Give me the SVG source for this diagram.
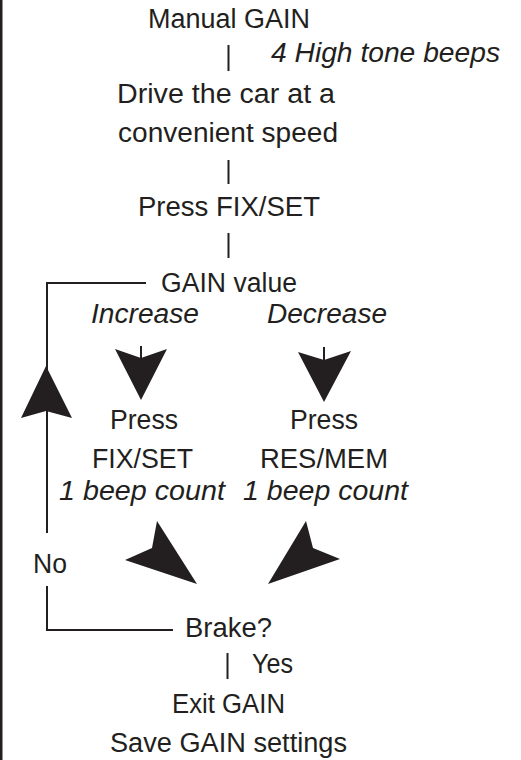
<svg xmlns="http://www.w3.org/2000/svg" width="521" height="760" viewBox="0 0 521 760">
<style>
  text { font-family: "Liberation Sans", Arial, sans-serif; font-size: 27px; fill: #231f20; text-anchor: middle; }
  .it { font-style: italic; }
  .ln { stroke: #231f20; stroke-width: 2; fill: none; }
  .ah { fill: #231f20; stroke: none; }
</style>
<rect x="0" y="0" width="521" height="760" fill="#ffffff"/>
<rect x="0" y="0" width="2.5" height="760" fill="#231f20"/>

<g id="connectors">
  <line class="ln" x1="228.5" y1="45" x2="228.5" y2="71"/>
  <line class="ln" x1="228.5" y1="160" x2="228.5" y2="184"/>
  <line class="ln" x1="228.5" y1="233" x2="228.5" y2="258"/>
  <path class="ln" d="M146,283 H47 V370"/>
  <path class="ln" d="M47,405 V533"/>
  <path class="ln" d="M47,586 V630 H173"/>
  <polygon class="ah" points="46,366 72,418 46,411 21,418"/>
  <line class="ln" x1="141" y1="346" x2="141" y2="358"/>
  <polygon class="ah" points="115,349 141,358 167,349 141,400"/>
  <line class="ln" x1="324" y1="347" x2="324" y2="360"/>
  <polygon class="ah" points="298,352 324,360 351,351 324,402"/>
  <polygon class="ah" points="157,521 152,548 125,560 197,584"/>
  <polygon class="ah" points="306,521 313,548 340,559 268,584"/>
  <line class="ln" x1="227.5" y1="653" x2="227.5" y2="679"/>
</g>

<g id="manual-gain"><text x="229" y="28" textLength="162" lengthAdjust="spacingAndGlyphs">Manual GAIN</text></g>
<g id="beeps-4"><text class="it" x="385.5" y="62" textLength="229" lengthAdjust="spacingAndGlyphs">4 High tone beeps</text></g>
<g id="drive">
  <text x="226" y="103" textLength="218" lengthAdjust="spacingAndGlyphs">Drive the car at a</text>
  <text x="228" y="142" textLength="220" lengthAdjust="spacingAndGlyphs">convenient speed</text>
</g>
<g id="press-fixset"><text x="229" y="216" textLength="182" lengthAdjust="spacingAndGlyphs">Press FIX/SET</text></g>
<g id="gain-value"><text x="229" y="292" textLength="136" lengthAdjust="spacingAndGlyphs">GAIN value</text></g>
<g id="increase-label"><text class="it" x="145" y="323" textLength="108" lengthAdjust="spacingAndGlyphs">Increase</text></g>
<g id="decrease-label"><text class="it" x="327" y="323" textLength="120" lengthAdjust="spacingAndGlyphs">Decrease</text></g>
<g id="press-fixset-inc">
  <text x="144" y="429" textLength="68" lengthAdjust="spacingAndGlyphs">Press</text>
  <text x="142.5" y="468" textLength="101" lengthAdjust="spacingAndGlyphs">FIX/SET</text>
  <text class="it" x="142" y="500" textLength="166" lengthAdjust="spacingAndGlyphs">1 beep count</text>
</g>
<g id="press-resmem-dec">
  <text x="324" y="429" textLength="68" lengthAdjust="spacingAndGlyphs">Press</text>
  <text x="324" y="468" textLength="128" lengthAdjust="spacingAndGlyphs">RES/MEM</text>
  <text class="it" x="325.5" y="500" textLength="165" lengthAdjust="spacingAndGlyphs">1 beep count</text>
</g>
<g id="no-label"><text x="50" y="573" textLength="34" lengthAdjust="spacingAndGlyphs">No</text></g>
<g id="brake"><text x="228.5" y="637" textLength="87" lengthAdjust="spacingAndGlyphs">Brake?</text></g>
<g id="yes-label"><text x="272.5" y="673" textLength="41" lengthAdjust="spacingAndGlyphs">Yes</text></g>
<g id="exit-gain">
  <text x="228.5" y="713" textLength="113" lengthAdjust="spacingAndGlyphs">Exit GAIN</text>
  <text x="228.5" y="752" textLength="237" lengthAdjust="spacingAndGlyphs">Save GAIN settings</text>
</g>
</svg>
